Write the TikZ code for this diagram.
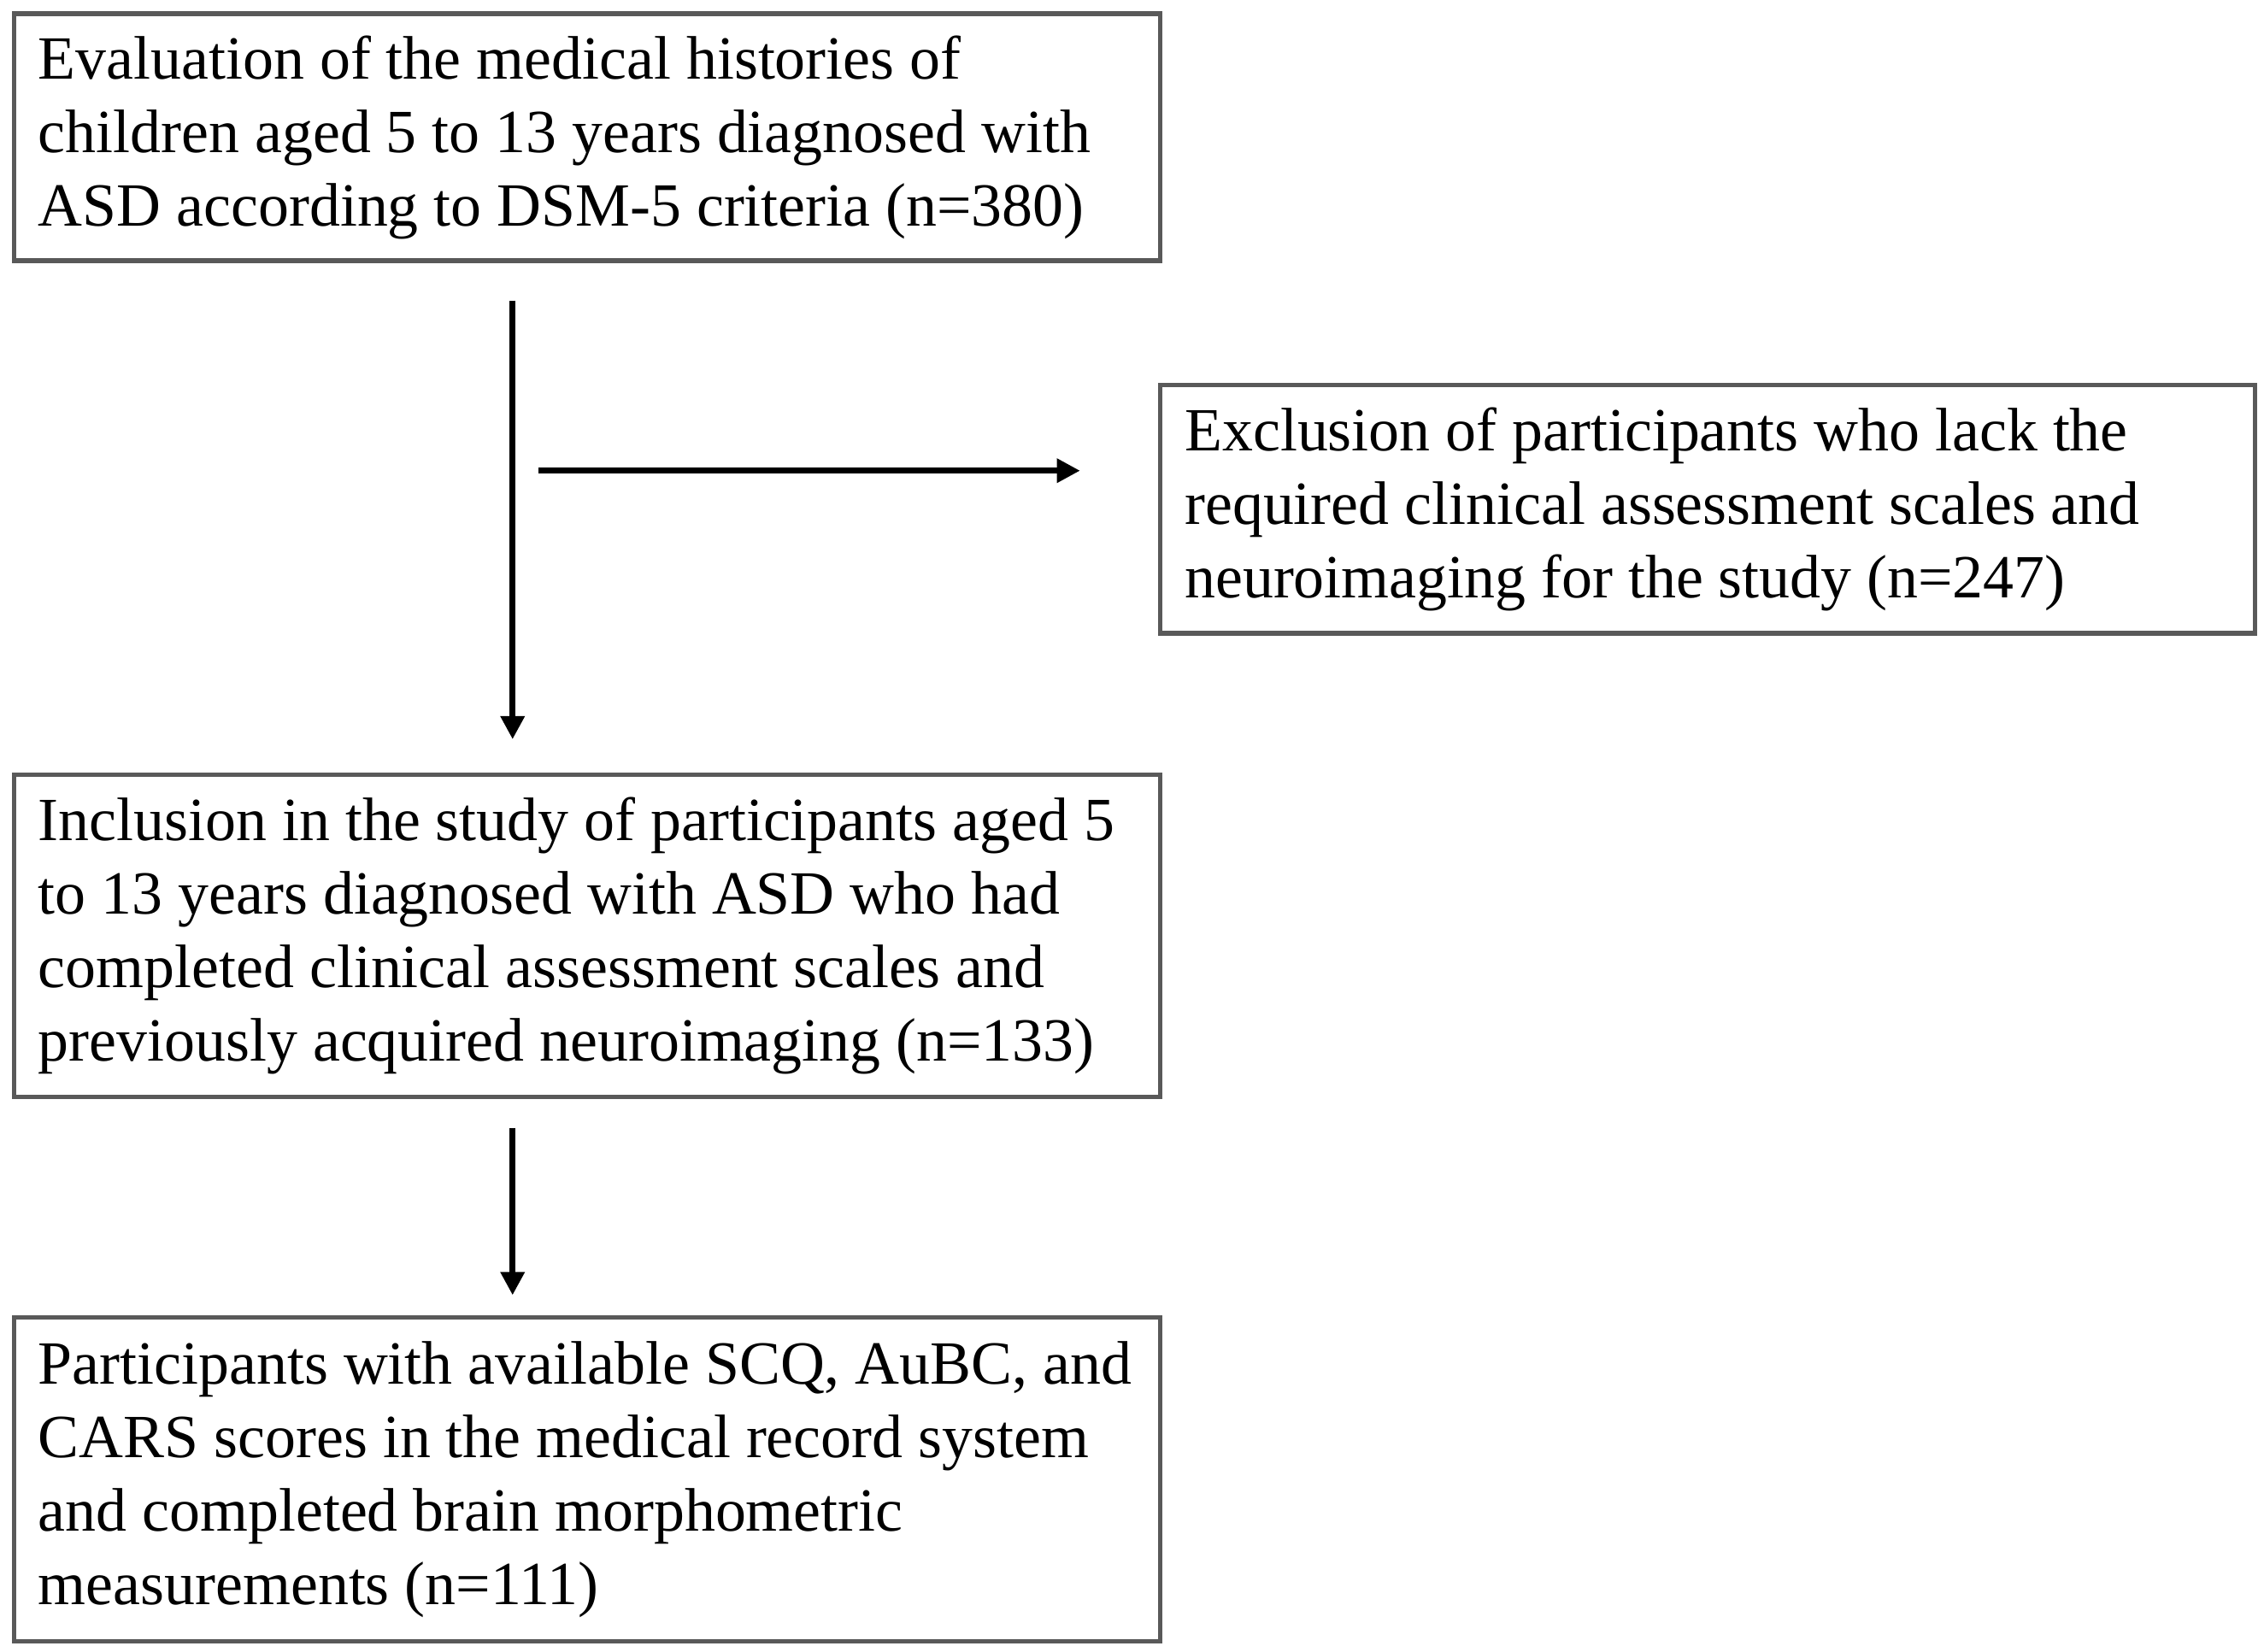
\documentclass[tikz,border=0pt]{standalone}
\usepackage{fontspec}
\setmainfont{Liberation Serif}
\usetikzlibrary{arrows.meta}
\tikzset{
box/.style={draw=black!65, line width=0.9pt, anchor=north west, inner xsep=0.17cm, inner ysep=0pt,
  align=flush left, font=\fontsize{12.1pt}{14.5pt}\selectfont},
widebox/.style={box, minimum width=7.94cm, text width=7.60cm},
flow/.style={line width=1.1pt, -{Triangle[length=0.16cm,width=0.16cm]}}
}

\begin{document}
\begin{tikzpicture}
\useasboundingbox (0,0) rectangle (15.68,-11.44);
\node[widebox, minimum height=1.71cm] (evalbox) at (0.08,-0.08)
  {Evaluation of the medical histories of\\ children aged 5 to 13 years diagnosed with\\ ASD according to DSM-5 criteria (n=380)};
\node[box, minimum width=7.58cm, text width=7.24cm, minimum height=1.72cm] (exclbox) at (8.02,-2.65)
  {Exclusion of participants who lack the\\ required clinical assessment scales and\\ neuroimaging for the study (n=247)};
\node[widebox, minimum height=2.23cm] (inclbox) at (0.08,-5.35)
  {Inclusion in the study of participants aged 5\\ to 13 years diagnosed with ASD who had\\ completed clinical assessment scales and\\ previously acquired neuroimaging (n=133)};
\node[widebox, minimum height=2.24cm] (partbox) at (0.08,-9.11)
  {Participants with available SCQ, AuBC, and\\ CARS scores in the medical record system\\ and completed brain morphometric\\ measurements (n=111)};

\coordinate (spine) at (3.55,0);
\coordinate (branch) at (3.73,-3.26);
\draw[flow, shorten <=0.26cm, shorten >=0.23cm] (evalbox.south -| spine) -- (inclbox.north -| spine);
\draw[flow, shorten >=0.54cm] (branch) -- (exclbox.west |- branch);
\draw[flow, shorten <=0.2cm, shorten >=0.14cm] (inclbox.south -| spine) -- (partbox.north -| spine);
\end{tikzpicture}
\end{document}
